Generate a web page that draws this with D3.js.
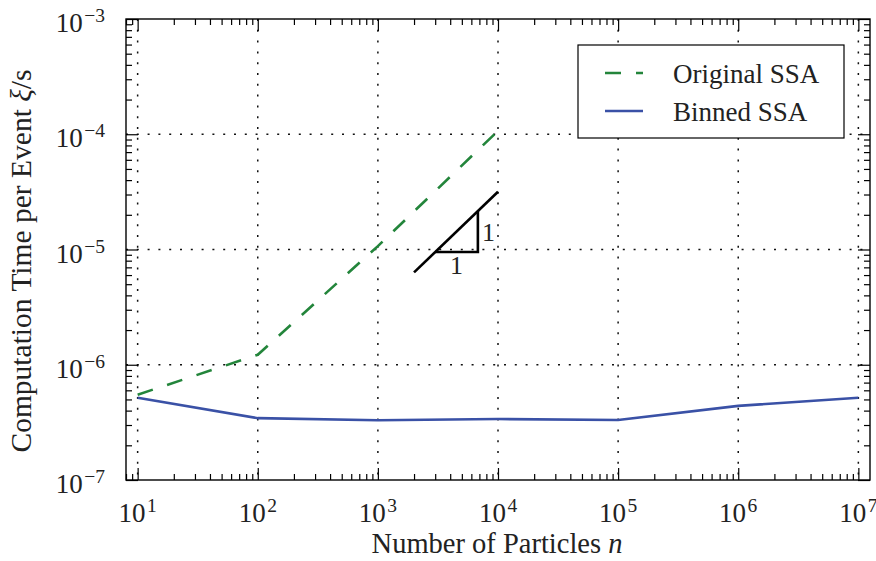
<!DOCTYPE html>
<html>
<head>
<meta charset="utf-8">
<script src="https://cdn.jsdelivr.net/npm/d3@7"></script>
<style>
  html, body { margin: 0; padding: 0; background: #fff; }
  svg text { font-family: "Liberation Serif", "DejaVu Serif", serif; fill: #222; }
</style>
</head>
<body>
<svg id="chart" width="876" height="561"></svg>
<script>
// Number of particles n (x) and computation time per event (s)
const particles   = [1e1, 1e2, 1e3, 1e4, 1e5, 1e6, 1e7];
const originalSSA = [5.5e-7, 1.22e-6, 1.07e-5, 1.07e-4];            // n = 10 .. 10^4
const binnedSSA   = [5.17e-7, 3.44e-7, 3.3e-7, 3.38e-7, 3.32e-7, 4.4e-7, 5.17e-7];

// Slope-one guide and its triangle
const guideX   = [2000, 10000];
const guideRef = { x: 3000, y: 9.5e-6 };
const triangleX = [3000, 6800];

const xTickExp = [1, 2, 3, 4, 5, 6, 7];
const yTickExp = [-7, -6, -5, -4, -3];

const seriesNames  = ["Original SSA", "Binned SSA"];
const seriesColors = ["#23853b", "#3a51a6"];

const svg = d3.select("#chart");
const box = { left: 126, right: 870, top: 19, bottom: 480 };

const x = d3.scaleLog().domain([8, 1.25e7]).range([box.left, box.right]);
const y = d3.scaleLog().domain([1e-7, 1e-3]).range([box.bottom, box.top]);

const majorsX = xTickExp.map(e => Math.pow(10, e));
const majorsY = yTickExp.map(e => Math.pow(10, e));
function minors(scale) {
  const [a, b] = scale.domain();
  const out = [];
  for (let e = Math.floor(Math.log10(a)); e <= Math.ceil(Math.log10(b)); e++) {
    for (let k = 2; k <= 9; k++) {
      const v = k * Math.pow(10, e);
      if (v >= a && v <= b) out.push(v);
    }
  }
  return out;
}

// Grid (dotted, decades only)
const grid = svg.append("g").attr("stroke", "#111").attr("stroke-width", 1.5)
  .attr("stroke-dasharray", "2,8.8").attr("fill", "none");
grid.selectAll("line.gx").data(majorsX).join("line").attr("class", "gx")
  .attr("x1", d => x(d)).attr("x2", d => x(d))
  .attr("y1", box.top).attr("y2", box.bottom);
grid.selectAll("line.gy").data(majorsY.filter(v => v > 1e-7 && v < 1e-3)).join("line").attr("class", "gy")
  .attr("x1", box.left).attr("x2", box.right)
  .attr("y1", d => y(d)).attr("y2", d => y(d));

// Data lines
const line = d3.line().x(d => x(d[0])).y(d => y(d[1]));
const orig = originalSSA.map((v, i) => [particles[i], v]);
const binned = binnedSSA.map((v, i) => [particles[i], v]);

svg.append("path").datum(orig).attr("d", line)
  .attr("fill", "none").attr("stroke", seriesColors[0]).attr("stroke-width", 2.6)
  .attr("stroke-dasharray", "16,15");
svg.append("path").datum(binned).attr("d", line)
  .attr("fill", "none").attr("stroke", seriesColors[1]).attr("stroke-width", 2.6);

// Slope triangle
const guide = guideX.map(v => [v, guideRef.y * v / guideRef.x]);
svg.append("path").datum(guide).attr("d", line)
  .attr("fill", "none").attr("stroke", "#000").attr("stroke-width", 2.6);
const tri = [
  [triangleX[0], guideRef.y],
  [triangleX[1], guideRef.y],
  [triangleX[1], guideRef.y * triangleX[1] / triangleX[0]]
];
svg.append("path").datum(tri).attr("d", line)
  .attr("fill", "none").attr("stroke", "#000").attr("stroke-width", 2.6);
const geoMidX = Math.sqrt(triangleX[0] * triangleX[1]);
svg.append("text").attr("x", x(geoMidX)).attr("y", y(guideRef.y) + 22)
  .attr("text-anchor", "middle").attr("font-size", 26).text("1");
svg.append("text").attr("x", x(triangleX[1]) + 4)
  .attr("y", y(guideRef.y * Math.sqrt(triangleX[1] / triangleX[0])) + 9)
  .attr("text-anchor", "start").attr("font-size", 26).text("1");

// Frame ticks on all four sides (pointing inward)
function tickAxis(axisFn, scale, tr, vals, size) {
  svg.append("g").attr("transform", tr)
    .call(axisFn(scale).tickValues(vals).tickSize(size).tickSizeOuter(0).tickFormat(""))
    .call(g => g.select(".domain").remove())
    .call(g => g.selectAll(".tick line").attr("stroke", "#000").attr("stroke-width", 1.2));
}
tickAxis(d3.axisBottom, x, `translate(0,${box.bottom})`, majorsX, -12);
tickAxis(d3.axisBottom, x, `translate(0,${box.bottom})`, minors(x), -6);
tickAxis(d3.axisTop, x, `translate(0,${box.top})`, majorsX, -12);
tickAxis(d3.axisTop, x, `translate(0,${box.top})`, minors(x), -6);
tickAxis(d3.axisLeft, y, `translate(${box.left},0)`, majorsY, -12);
tickAxis(d3.axisLeft, y, `translate(${box.left},0)`, minors(y), -6);
tickAxis(d3.axisRight, y, `translate(${box.right},0)`, majorsY, -12);
tickAxis(d3.axisRight, y, `translate(${box.right},0)`, minors(y), -6);

svg.append("rect").attr("x", box.left).attr("y", box.top)
  .attr("width", box.right - box.left).attr("height", box.bottom - box.top)
  .attr("fill", "none").attr("stroke", "#000").attr("stroke-width", 1.4);

// Tick labels 10^k
function powLabel(sel, exp) {
  sel.append("tspan").text("10");
  sel.append("tspan").attr("font-size", 19.5).attr("dy", -10).attr("dx", 1.5)
    .text(exp < 0 ? "\u2212" + (-exp) : String(exp));
}
svg.append("g").selectAll("text").data(xTickExp).join("text")
  .attr("x", d => x(Math.pow(10, d))).attr("y", 522)
  .attr("text-anchor", "middle").attr("font-size", 27)
  .each(function (d) { powLabel(d3.select(this), d); });
svg.append("g").selectAll("text").data(yTickExp).join("text")
  .attr("x", 105).attr("y", d => y(Math.pow(10, d)) + 13)
  .attr("text-anchor", "end").attr("font-size", 27)
  .each(function (d) { powLabel(d3.select(this), d); });

// Axis titles
const xt = svg.append("text").attr("x", 497).attr("y", 553)
  .attr("text-anchor", "middle").attr("font-size", 28.5);
xt.append("tspan").text("Number of Particles ");
xt.append("tspan").attr("font-style", "italic").text("n");

const yt = svg.append("text").attr("transform", "translate(31,261) rotate(-90)")
  .attr("text-anchor", "middle").attr("font-size", 29.5);
yt.append("tspan").text("Computation Time per Event ");
yt.append("tspan").attr("font-style", "italic").text("\u03BE");
yt.append("tspan").text("/s");

// Legend
const lg = svg.append("g");
lg.append("rect").attr("x", 578).attr("y", 45).attr("width", 266).attr("height", 93)
  .attr("fill", "#fff").attr("stroke", "#000").attr("stroke-width", 1.2);
const legendRows = [
  { name: seriesNames[0], color: seriesColors[0], dash: "16,15", y: 73 },
  { name: seriesNames[1], color: seriesColors[1], dash: null, y: 111 }
];
legendRows.forEach(r => {
  lg.append("line").attr("x1", 605).attr("x2", 643).attr("y1", r.y).attr("y2", r.y)
    .attr("stroke", r.color).attr("stroke-width", 2.6)
    .attr("stroke-dasharray", r.dash);
  lg.append("text").attr("x", 673).attr("y", r.y + 10).attr("font-size", 27).text(r.name);
});
</script>
</body>
</html>
